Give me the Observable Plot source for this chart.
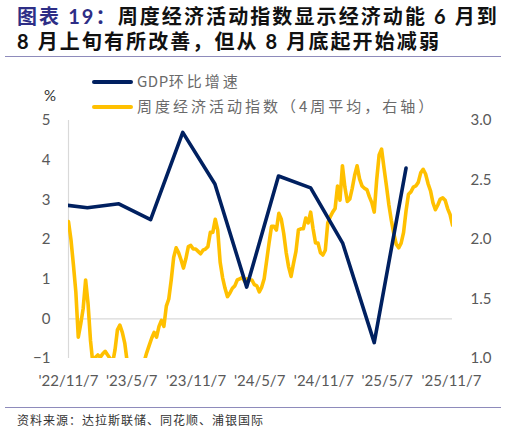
<!DOCTYPE html>
<html>
<head>
<meta charset="utf-8">
<script src="https://cdn.jsdelivr.net/npm/d3@7"></script>
<script src="https://cdn.jsdelivr.net/npm/@observablehq/plot@0.6"></script>
<style>
  html, body { margin: 0; padding: 0; background: #fff; }
  #wrap { position: relative; width: 513px; height: 432px; overflow: hidden; font-family: "Noto Sans CJK SC", sans-serif; }
  .title { position: absolute; left: 17px; top: 4px; font-family: Lato, "Noto Sans CJK SC", sans-serif; font-size: 20px; font-weight: bold; letter-spacing: 2.1px; color: #111; white-space: nowrap; line-height: 25px; }
  .title .hl { color: #2E2E86; }
  .sep { position: absolute; left: 5px; width: 496px; height: 0; border-top: 1.5px solid #8E8BBB; }
  .leg { position: absolute; font-size: 15px; letter-spacing: 3px; color: #6a6a6a; white-space: nowrap; line-height: 18px; }
  .leg .lat { letter-spacing: 0.5px; }
  .sw { position: absolute; height: 4px; border-radius: 2px; width: 41px; }
  .unit { position: absolute; left: 44px; top: 86px; font-family: Lato, sans-serif; font-size: 15px; color: #333; }
  .src { position: absolute; left: 17px; top: 411px; font-size: 12px; letter-spacing: 1px; color: #333; white-space: nowrap; }
  #chart { position: absolute; left: 0; top: 105px; }
</style>
</head>
<body>
<div id="wrap">
  <div class="title"><span class="hl">图表 19：</span>周度经济活动指数显示经济动能 6 月到<br>8 月上旬有所改善，但从 8 月底起开始减弱</div>
  <div class="sep" style="top:56px"></div>
  <div class="unit">%</div>
  <div class="sw" style="left:92px;top:80px;background:#002060"></div>
  <div class="leg" style="left:137px;top:72px"><span class="lat">GDP</span>环比增速</div>
  <div class="sw" style="left:92px;top:105px;background:#FFC000"></div>
  <div class="leg" style="left:137px;top:97px">周度经济活动指数（4周平均，右轴）</div>
  <div id="chart"></div>
  <div class="sep" style="top:407px"></div>
  <div class="src">资料来源：达拉斯联储、同花顺、浦银国际</div>
</div>
<script>
// GDP quarter-on-quarter growth (%, left axis), plotted at quarter-end dates
const gdpDates = ["2022-09-30","2022-12-31","2023-03-31","2023-06-30","2023-09-30","2023-12-31",
                  "2024-03-31","2024-06-30","2024-09-30","2024-12-31","2025-03-31","2025-06-30"];
const gdpValues = [2.9, 2.8, 2.9, 2.5, 4.7, 3.4, 0.8, 3.6, 3.3, 1.9, -0.6, 3.8];

// Weekly economic activity index (4-week average, right axis), weekly from start date
const weiStart = "2022-11-07";
const weiValues = [
  2.15,2.00,1.79,1.56,1.18,1.29,1.42,1.66,1.46,1.15,
  0.95,1.01,1.03,1.01,1.04,1.06,1.03,1.00,0.96,1.07,
  1.24,1.28,1.22,1.13,0.97,0.92,0.88,0.85,0.85,0.88,
  0.93,0.98,1.05,1.11,1.17,1.22,1.18,1.27,1.32,1.27,
  1.44,1.50,1.66,1.85,1.93,1.89,1.83,1.76,1.84,1.94,
  1.95,1.92,1.92,1.90,1.88,1.91,1.92,1.94,2.06,2.06,
  2.17,2.08,1.81,1.68,1.59,1.52,1.55,1.59,1.61,1.66,
  1.67,1.68,1.65,1.67,1.66,1.66,1.62,1.61,1.56,1.60,
  1.67,1.82,1.97,2.11,2.11,2.08,2.22,2.17,2.05,1.89,
  1.77,1.69,1.80,1.90,2.08,2.09,2.09,2.18,2.14,2.23,
  2.09,1.97,1.97,1.89,1.87,1.91,2.14,2.19,2.23,2.26,
  2.45,2.33,2.62,2.44,2.32,2.34,2.43,2.54,2.62,2.51,
  2.45,2.43,2.42,2.36,2.31,2.23,2.50,2.71,2.76,2.60,
  2.45,2.29,2.16,2.05,1.96,1.93,1.97,2.06,2.24,2.38,
  2.40,2.44,2.45,2.48,2.56,2.59,2.55,2.47,2.41,2.31,
  2.25,2.29,2.34,2.35,2.33,2.26,2.21,2.12
];

const xDomain = ["2022-11-07", "2025-11-10"];
const xTicks = ["2022-11-07","2023-05-07","2023-11-07","2024-05-07","2024-11-07","2025-05-07","2025-11-07"];
const leftTicks = [-1, 0, 1, 2, 3, 4, 5];
const rightTicks = [1.0, 1.5, 2.0, 2.5, 3.0];
const leftDomain = [-1, 5];
const rightDomain = [1, 3];

const parse = d3.utcParse("%Y-%m-%d");
// map right-axis values onto the left scale
const toLeft = r => leftDomain[0] + (r - rightDomain[0]) * (leftDomain[1] - leftDomain[0]) / (rightDomain[1] - rightDomain[0]);
const fromLeft = l => rightDomain[0] + (l - leftDomain[0]) * (rightDomain[1] - rightDomain[0]) / (leftDomain[1] - leftDomain[0]);

const gdp = gdpDates.map((d, i) => ({date: parse(d), value: gdpValues[i]}));
const start = parse(weiStart);
const wei = weiValues.map((v, i) => ({date: d3.utcDay.offset(start, 7 * i), value: toLeft(v)}));

const chart = Plot.plot({
  width: 513,
  height: 290,
  marginLeft: 68,
  marginRight: 61,
  marginTop: 15,
  marginBottom: 37,
  style: {fontFamily: "Lato, sans-serif", fontSize: "15px", color: "#595959", background: "transparent"},
  x: {type: "utc", domain: xDomain.map(parse)},
  y: {domain: leftDomain},
  marks: [
    Plot.ruleY([0], {stroke: "#d9d9d9", strokeWidth: 1.2}),
    Plot.ruleX([parse(xDomain[0])], {stroke: "#d9d9d9", strokeWidth: 1.2}),
    Plot.axisX(xTicks.map(parse), {tickSize: 0, tickPadding: 17, tickFormat: d3.utcFormat("'%y/%-m/%-d"), label: null}),
    Plot.axisY(leftTicks, {anchor: "left", tickSize: 0, tickPadding: 18, label: null}),
    Plot.axisY(rightTicks.map(toLeft), {anchor: "right", tickSize: 0, tickPadding: 18, label: null,
      tickFormat: v => d3.format(".1f")(fromLeft(v))}),
    Plot.lineY(wei, {x: "date", y: "value", stroke: "#FFC000", strokeWidth: 3.6, clip: true}),
    Plot.lineY(gdp, {x: "date", y: "value", stroke: "#002060", strokeWidth: 3.6, clip: true})
  ]
});
document.getElementById("chart").appendChild(chart);
</script>
</body>
</html>
